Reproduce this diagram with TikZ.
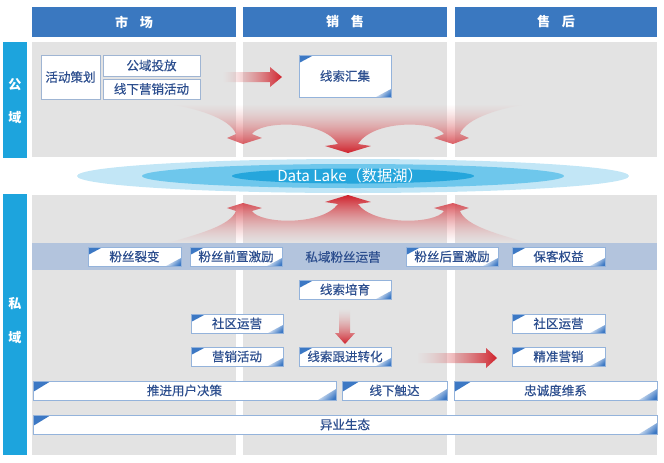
\documentclass[tikz,border=0pt]{standalone}
\usepackage{fontspec}
\setmainfont{Noto Sans CJK SC}
\newfontfamily\boxcjk[FakeBold=0.35]{Noto Sans CJK SC}
\usetikzlibrary{fadings}
\definecolor{hdr}{HTML}{3A78C0}
\definecolor{sidebar}{HTML}{1DA4DD}
\definecolor{panel}{HTML}{E3E3E3}
\definecolor{band}{HTML}{B3C4DD}
\definecolor{bborder}{HTML}{94B3DB}
\definecolor{pborder}{HTML}{9FB5D3}
\definecolor{btext}{HTML}{2C4E8E}
\definecolor{cblue}{HTML}{3C78C4}
\definecolor{lakeA}{HTML}{C2E6F6}
\definecolor{lakeB}{HTML}{6EC7EC}
\definecolor{lakeC}{HTML}{25A6DC}
\definecolor{redd}{HTML}{D0222C}
\definecolor{redl}{HTML}{E49A9A}
\tikzfading[name=fadedown, top color=transparent!100, middle color=transparent!45, bottom color=transparent!0]
\tikzfading[name=fadeup, top color=transparent!0, middle color=transparent!45, bottom color=transparent!100]
\tikzfading[name=faderight, left color=transparent!100, right color=transparent!0]
\tikzfading[name=fadearrow, top color=transparent!100, bottom color=transparent!0]
\newcommand\boxfont{\boxcjk\fontsize{9.4}{11}\selectfont}
\newcommand\placebox[7]{\node[#1, minimum width={(#5-#3)*0.75pt}, minimum height={(#6-#4)*0.75pt}] (#2) at ({(#3+#5)/2},{(#4+#6)/2}) {#7};}
\tikzset{
  hdrbox/.style={fill=hdr, text=white, inner sep=0, font=\bfseries\fontsize{9.8}{12}\selectfont},
  sidebox/.style={fill=sidebar, inner sep=0},
  sidetext/.style={text=white, inner sep=0, font=\bfseries\fontsize{9.8}{12}\selectfont},
  panelbox/.style={fill=panel, inner sep=0},
  bandbox/.style={fill=band, inner sep=0},
  plainbox/.style={draw=pborder, fill=white, line width=0.7pt, text=btext, inner sep=0, font=\boxfont},
  cornerbox/.style 2 args={draw=bborder, fill=white, line width=0.7pt, text=btext, inner sep=0, font=\boxfont,
    path picture={
      \shade[top color=cblue, middle color=cblue!25, bottom color=white, shading angle=45]
        (path picture bounding box.north west) -- ++(#1,0) -- ++(-#1,#2) -- cycle;
      \shade[top color=cblue, middle color=cblue!25, bottom color=white, shading angle=225]
        (path picture bounding box.south east) -- ++(-#1,0) -- ++(#1,-#2) -- cycle;
    }},
  cb/.style={cornerbox={15}{8}},
  cbl/.style={cornerbox={18}{11}},
  fanshade/.style={top color=redl, bottom color=redd},
  arrowshade/.style={left color=redl, right color=redd},
}
\begin{document}
\begin{tikzpicture}[x=0.75pt, y=-0.75pt]
\useasboundingbox (0,0) rectangle (664,462);
% headers
\placebox{hdrbox}{h1}{32}{7}{236}{37}{市\hspace{0.9em}场}
\placebox{hdrbox}{h2}{243}{7}{447}{37}{销\hspace{0.9em}售}
\placebox{hdrbox}{h3}{455}{7}{657}{37}{售\hspace{0.9em}后}
% side bars
\placebox{sidebox}{sb1}{3}{42}{27}{158}{}
\placebox{sidebox}{sb2}{3}{194}{27}{455}{}
\node[sidetext] (s1) at (15,85) {公};
\node[sidetext] (s2) at (15,118) {域};
\node[sidetext] (s3) at (15,304) {私};
\node[sidetext] (s4) at (15,338) {域};
% panels
\placebox{panelbox}{p1}{32}{42}{236}{157}{}
\placebox{panelbox}{p2}{243}{42}{447}{157}{}
\placebox{panelbox}{p3}{455}{42}{657}{157}{}
\placebox{panelbox}{q1}{32}{195}{236}{455}{}
\placebox{panelbox}{q2}{243}{195}{447}{455}{}
\placebox{panelbox}{q3}{455}{195}{657}{455}{}
% top fan
\shade[fanshade, path fading=fadedown]
  (168,104) -- (528,104) .. controls (501,108) and (466,118) .. (460,134)
  -- (469,138) -- (453,144) -- (434,138) -- (444,134)
  .. controls (436,121) and (374,119) .. (358,144)
  -- (371,146) -- (348,153) -- (325,146) -- (338,144)
  .. controls (322,119) and (260,121) .. (252,134)
  -- (262,138) -- (243,144) -- (227,138) -- (236,134)
  .. controls (230,118) and (195,108) .. (168,104) -- cycle;
% bottom fan
\shade[fanshade, path fading=fadeup, top color=redd, bottom color=redl]
  (168,243) -- (528,243) .. controls (498,234) and (466,226) .. (460,211)
  -- (469,208) -- (453,203) -- (434,208) -- (444,211)
  .. controls (436,224) and (374,226) .. (358,204)
  -- (371,202) -- (348,195) -- (325,202) -- (338,204)
  .. controls (322,226) and (260,224) .. (252,211)
  -- (262,208) -- (243,203) -- (227,208) -- (236,211)
  .. controls (230,226) and (198,234) .. (168,243) -- cycle;
% data lake
\fill[lakeA] (353,176) ellipse [x radius=276, y radius=17];
\fill[lakeB] (353,176) ellipse [x radius=211, y radius=12];
\fill[lakeC] (353,176) ellipse [x radius=121, y radius=7.5];
\node[text=white, inner sep=0, font=\fontsize{11.4}{13}\selectfont] (lake) at (350,176) {Data Lake（数据湖）};
% band
\placebox{bandbox}{band}{32}{243}{657}{270}{}
% public boxes
\placebox{plainbox}{a1}{41}{55}{100}{99}{活动策划}
\placebox{plainbox}{a2}{103}{55}{200}{76}{公域投放}
\placebox{plainbox}{a3}{103}{79}{200}{99}{线下营销活动}
\placebox{cb}{a4}{299}{55}{391}{97}{线索汇集}
% band boxes
\placebox{cb}{b1}{88}{247}{181}{266}{粉丝裂变}
\placebox{cb}{b2}{190}{247}{282}{266}{粉丝前置激励}
\node[text=btext, inner sep=0, font=\boxfont] (b3) at (343,257) {私域粉丝运营};
\placebox{cb}{b4}{406}{247}{498}{266}{粉丝后置激励}
\placebox{cb}{b5}{512}{247}{605}{266}{保客权益}
% private boxes
\placebox{cb}{c1}{299}{280}{391}{299}{线索培育}
\placebox{cb}{c2}{191}{314}{283}{333}{社区运营}
\placebox{cb}{c3}{191}{347}{283}{366}{营销活动}
\placebox{cb}{c4}{299}{347}{391}{366}{线索跟进转化}
\placebox{cb}{c5}{512}{314}{605}{333}{社区运营}
\placebox{cb}{c6}{512}{347}{605}{366}{精准营销}
\placebox{cbl}{d1}{33}{381}{336}{400}{推进用户决策}
\placebox{cbl}{d2}{342}{381}{447}{400}{线下触达}
\placebox{cbl}{d3}{454}{381}{657}{400}{忠诚度维系}
\placebox{cbl}{d4}{33}{415}{657}{434}{异业生态}
% straight arrows
\shade[arrowshade, path fading=faderight]
  (223,72) -- (270,72) -- (270,67) -- (282,77) -- (270,87) -- (270,82) -- (223,82) -- cycle;
\shade[top color=redl, bottom color=redd, path fading=fadearrow]
  (339,309) -- (350,309) -- (350,333) -- (355,333) -- (345,344) -- (335,333) -- (339,333) -- cycle;
\shade[arrowshade, path fading=faderight]
  (417,353) -- (486,353) -- (486,348) -- (497,358) -- (486,368) -- (486,363) -- (417,363) -- cycle;
\end{tikzpicture}
\end{document}
